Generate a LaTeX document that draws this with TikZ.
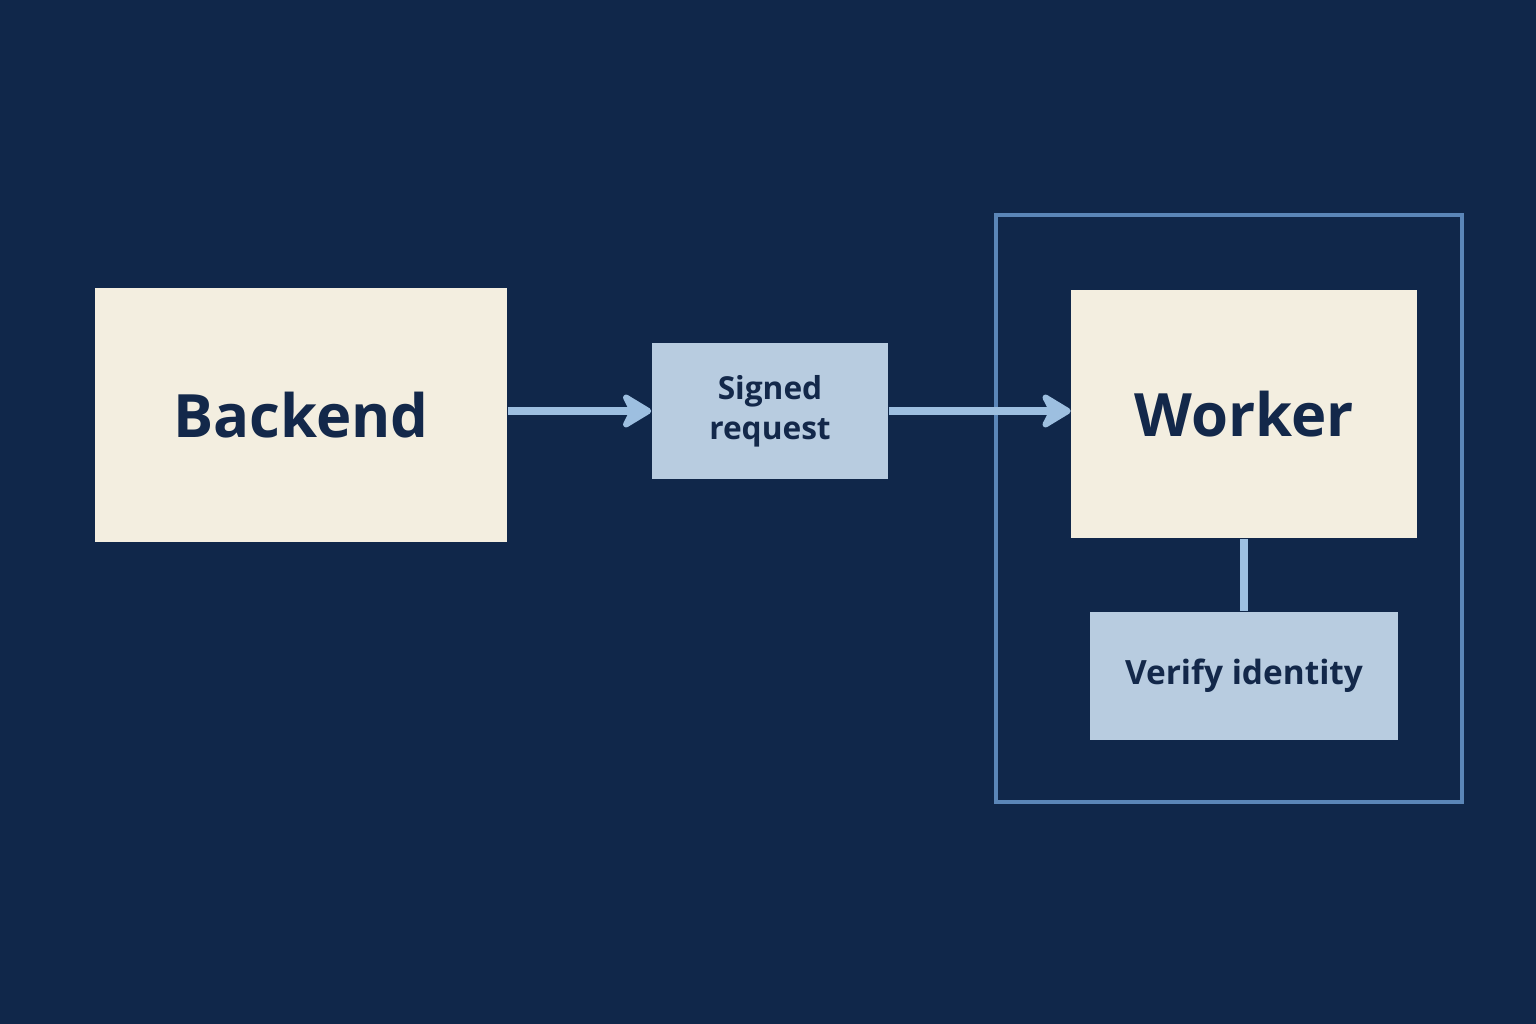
\documentclass[tikz,border=0pt]{standalone}
\usepackage{fontspec}
\setmainfont{Open Sans}
\usetikzlibrary{arrows.meta}
\definecolor{bg}{HTML}{10274A}
\definecolor{cream}{HTML}{F3EEE0}
\definecolor{lblue}{HTML}{B8CCE0}
\definecolor{ink}{HTML}{13284A}
\definecolor{frame}{HTML}{5B86B8}
\definecolor{arr}{HTML}{9DBFE0}
\begin{document}
\begin{tikzpicture}[x=0.01cm,y=-0.01cm,
  box/.style={draw=none,inner sep=0pt,text=ink,font=\bfseries,align=center},
  conn/.style={draw=arr,line width=2.2pt,-{Stealth[length=10pt,width=12pt,inset=3pt,round]}}]
\fill[bg] (0,0) rectangle (1536,1024);
\useasboundingbox (0,0) rectangle (1536,1024);
\draw[frame,line width=1pt] (996,215) rectangle (1462,802);
\node[box,fill=cream,minimum width=4.12cm,minimum height=2.54cm,font=\fontsize{17}{20}\selectfont\bfseries] (b) at (301,415) {Backend};
\node[box,fill=lblue,minimum width=2.36cm,minimum height=1.35cm,font=\fontsize{9}{11.5}\selectfont\bfseries] (s) at (770,411) {Signed\\request};
\node[box,fill=cream,minimum width=3.45cm,minimum height=2.48cm,font=\fontsize{17}{20}\selectfont\bfseries] (w) at (1244,414) {Worker};
\node[box,fill=lblue,minimum width=3.08cm,minimum height=1.28cm,font=\fontsize{9.5}{12}\selectfont\bfseries] (v) at (1244,676) {Verify identity};
\draw[conn] (b.east|-s) -- (s.west);
\draw[conn] (s.east) -- (w.west|-s);
\draw[draw=arr,line width=2.2pt] (w.south) -- (v.north);
\end{tikzpicture}
\end{document}
